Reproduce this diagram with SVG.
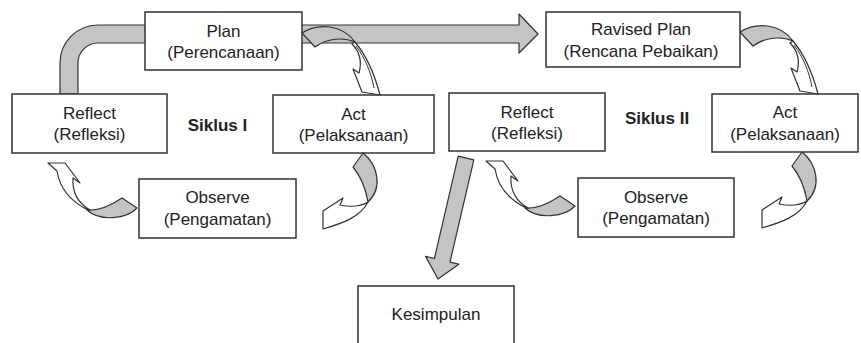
<svg xmlns="http://www.w3.org/2000/svg" xmlns:xlink="http://www.w3.org/1999/xlink" width="861" height="343" viewBox="0 0 861 343">
<style>
.box{fill:#fff;stroke:#333;stroke-width:1.5}
.t{font-family:"Liberation Sans",Arial,sans-serif;font-size:17px;fill:#222;text-anchor:middle}
.b{font-weight:bold}
.g{fill:#c4c4c4;stroke:#333;stroke-width:1.2;stroke-linejoin:round}
.w{fill:#fff;stroke:#333;stroke-width:1.2;stroke-linejoin:round}
</style>
<defs>
<g id="arrowDown">
<path class="g" d="M302,33 C318,23 342,24 355,42 C344,37 327,38 315,47 Z"/>
<path class="w" d="M355,42 C366,55 374,72 380,95 L362,92 L353,69 L359,73 C362,62 360,52 352,44 Z"/>
<path fill="none" stroke="#333" stroke-width="1" d="M356,46 C365,58 371,72 374,88"/>
</g>
<g id="arrowLeft">
<path class="g" d="M363,153 C378,165 383,188 368,202 C366,190 362,178 353,167 Z"/>
<path class="w" d="M368,202 C360,207 350,207 340,205 L343,198 L323,211 L323,229 C340,224 360,218 368,202 Z"/>
</g>
<g id="arrowUp">
<path class="g" d="M122,198 L137,208 C127,219 100,222 87,210 C97,211 110,206 122,198 Z"/>
<path class="w" d="M88,210 C72,202 60,190 57,171 L48,163 L65,163 L80,183 L73,178 C72,192 78,203 90,210 Z"/>
</g>
</defs>
<g id="connectors">
<path id="band" class="g" d="M60,94 L60,63 A38,38 0 0 1 98,25 L519,25 L519,14 L538,34 L519,53 L519,43 L98,43 A20,20 0 0 0 78,63 L78,94 Z"/>
<path id="toKesimpulan" class="g" d="M458.2,156.2 L473.8,159.8 L450,262.1 L458.8,264.2 L438,279 L425.6,256.4 L434.4,258.5 Z"/>
</g>
<g id="plan"><rect class="box" x="145" y="12" width="157" height="58"/><text class="t" x="223.5" y="37">Plan</text><text class="t" x="223.5" y="58">(Perencanaan)</text></g>
<g id="reflect1"><rect class="box" x="12" y="94" width="155" height="59"/><text class="t" x="89.5" y="119">Reflect</text><text class="t" x="89.5" y="140">(Refleksi)</text></g>
<g id="act1"><rect class="box" x="273" y="95" width="161" height="58"/><text class="t" x="353.5" y="120">Act</text><text class="t" x="353.5" y="141">(Pelaksanaan)</text></g>
<g id="observe1"><rect class="box" x="139" y="179" width="157" height="59"/><text class="t" x="217.5" y="203">Observe</text><text class="t" x="217.5" y="225">(Pengamatan)</text></g>
<g id="ravised"><rect class="box" x="546" y="12" width="194" height="55"/><text class="t" x="641" y="35">Ravised Plan</text><text class="t" x="641" y="57">(Rencana Pebaikan)</text></g>
<g id="reflect2"><rect class="box" x="449" y="93" width="156" height="58"/><text class="t" x="527" y="118">Reflect</text><text class="t" x="527" y="139">(Refleksi)</text></g>
<g id="act2"><rect class="box" x="712" y="94" width="146" height="58"/><text class="t" x="785" y="118">Act</text><text class="t" x="785" y="140">(Pelaksanaan)</text></g>
<g id="observe2"><rect class="box" x="578" y="178" width="156" height="59"/><text class="t" x="656" y="203">Observe</text><text class="t" x="656" y="224">(Pengamatan)</text></g>
<g id="kesimpulan"><rect class="box" x="358" y="286" width="156" height="70"/><text class="t" x="436" y="320">Kesimpulan</text></g>
<g id="labels"><text class="t b" x="217.5" y="131">Siklus I</text><text class="t b" x="657" y="124">Siklus II</text></g>
<g id="curvedArrows">
<use xlink:href="#arrowDown"/>
<use xlink:href="#arrowDown" transform="translate(438,-1)"/>
<use xlink:href="#arrowLeft"/>
<use xlink:href="#arrowLeft" transform="translate(439,-1)"/>
<use xlink:href="#arrowUp"/>
<use xlink:href="#arrowUp" transform="translate(438,-2)"/>
</g>
</svg>
